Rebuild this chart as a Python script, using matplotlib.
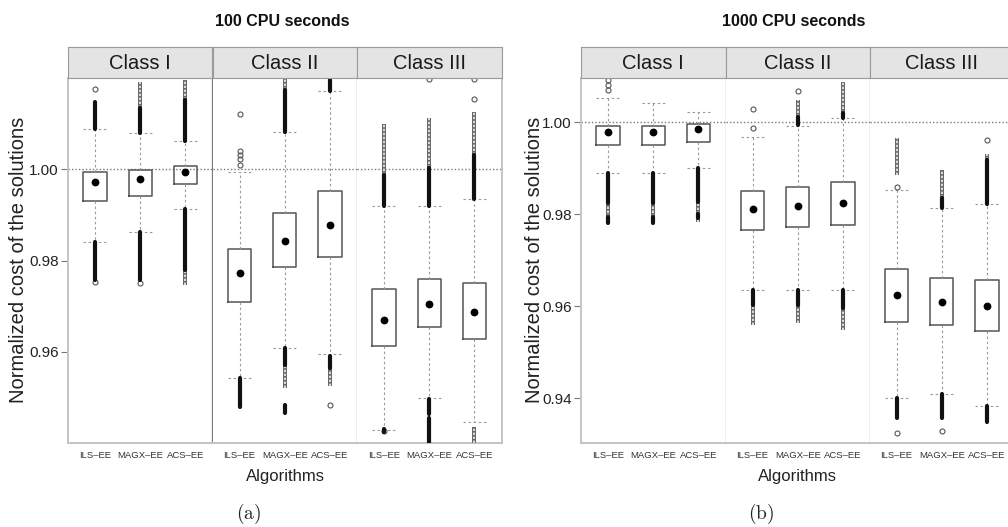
import matplotlib
matplotlib.use("Agg")
import matplotlib.pyplot as plt

plt.rcParams['font.family'] = ['Liberation Sans', 'DejaVu Sans']
plt.rcParams['mathtext.fontset'] = 'cm'

# ---------------------------------------------------------------- data
algorithms = ["ILS\u2013EE", "MAGX\u2013EE", "ACS\u2013EE"]
classes = ["Class I", "Class II", "Class III"]
panel_titles = ["100 CPU seconds", "1000 CPU seconds"]
panel_tags = ["(a)", "(b)"]
y_ticks_100 = [0.96, 0.98, 1.00]
y_ticks_1000 = [0.94, 0.96, 0.98, 1.00]
y_range_100 = (0.9401, 1.0199)
y_range_1000 = (0.9303, 1.0096)
reference_cost = 1.00

# rows = instance class, columns = algorithm
q1_100 = [[0.99307, 0.99416, 0.99672],
          [0.97086, 0.97851, 0.98076],
          [0.96138, 0.96541, 0.96284]]
q3_100 = [[0.99928, 0.99978, 1.00073],
          [0.98245, 0.99032, 0.99526],
          [0.97370, 0.97595, 0.97503]]
mean_100 = [[0.99709, 0.99775, 0.99941],
            [0.97720, 0.98433, 0.98782],
            [0.96695, 0.97049, 0.96867]]
whislo_100 = [[0.98397, 0.98630, 0.99126],
              [0.95425, 0.96094, 0.95955],
              [0.94295, 0.94985, 0.94476]]
whishi_100 = [[1.00874, 1.00780, 1.00612],
              [0.99928, 1.00802, 1.01705],
              [0.99191, 0.99191, 0.99344]]

q1_1000 = [[0.99507, 0.99507, 0.99565],
           [0.97659, 0.97717, 0.97767],
           [0.95665, 0.95593, 0.95463]]
q3_1000 = [[0.99926, 0.99926, 0.99957],
           [0.98507, 0.98600, 0.98696],
           [0.96811, 0.96609, 0.96572]]
mean_1000 = [[0.99796, 0.99796, 0.99854],
             [0.98109, 0.98187, 0.98239],
             [0.96245, 0.96100, 0.96006]]
whislo_1000 = [[0.98891, 0.98891, 0.98999],
               [0.96354, 0.96354, 0.96354],
               [0.93999, 0.94087, 0.93839]]
whishi_1000 = [[1.00535, 1.00413, 1.00230],
               [0.99687, 0.99926, 1.00087],
               [0.98528, 0.98130, 0.98217]]

# runs of heavily overlapping outliers (lo, hi)
dense_100 = [
    [[(0.9758, 0.9840), (1.0087, 1.0147)],
     [(0.9758, 0.9863), (1.0078, 1.0133)],
     [(0.9779, 0.9913), (1.0061, 1.0150)]],
    [[(0.9480, 0.9543)],
     [(0.9572, 0.9609), (0.9466, 0.9484), (1.0080, 1.0173)],
     [(0.9564, 0.9591), (1.0171, 1.0199)]],
    [[(0.9919, 0.9987), (0.9424, 0.9432)],
     [(0.9465, 0.9498), (0.9400, 0.9456), (0.9919, 1.0002)],
     [(0.9934, 1.0031)]],
]
# runs of loosely stacked outliers (lo, hi)
sparse_100 = [
    [[], [(1.0133, 1.0191)], [(0.9746, 0.9779), (1.0150, 1.0194)]],
    [[], [(0.9521, 0.9572), (1.0173, 1.0199)], [(0.9525, 0.9564)]],
    [[(0.9987, 1.0098)], [(1.0002, 1.0111)], [(0.9400, 0.9437), (1.0031, 1.0125)]],
]
# isolated outliers
fliers_100 = [
    [[0.9752, 1.0176], [0.9750], []],
    [[1.0009, 1.0022, 1.0031, 1.0039, 1.0120], [], [0.9483]],
    [[0.9427], [1.0196], [1.0152, 1.0196]],
]

dense_1000 = [
    [[(0.9824, 0.9889), (0.9780, 0.9794)],
     [(0.9824, 0.9889), (0.9780, 0.9794)],
     [(0.9827, 0.9900), (0.9792, 0.9800)]],
    [[(0.9603, 0.9635)],
     [(0.9603, 0.9635), (0.9993, 1.0012)],
     [(0.9596, 0.9635), (1.0009, 1.0020)]],
    [[(0.9357, 0.9400)],
     [(0.9357, 0.9409), (0.9813, 0.9835)],
     [(0.9349, 0.9384), (0.9822, 0.9918)]],
]
sparse_1000 = [
    [[(0.9794, 0.9824)], [(0.9794, 0.9824)], [(0.9784, 0.9827)]],
    [[(0.9559, 0.9603)], [(0.9563, 0.9603), (1.0012, 1.0049)],
     [(0.9549, 0.9596), (1.0020, 1.0088)]],
    [[(0.9885, 0.9965)], [(0.9835, 0.9896)], [(0.9918, 0.9930)]],
]
fliers_1000 = [
    [[1.0070, 1.0081, 1.0092], [], []],
    [[0.9988, 1.0029], [1.0067], []],
    [[0.9860, 0.9324], [0.9329], [0.9962]],
]

panels = [
    dict(q1=q1_100, q3=q3_100, mean=mean_100, lo=whislo_100, hi=whishi_100,
         dense=dense_100, sparse=sparse_100, fliers=fliers_100,
         yr=y_range_100, yt=y_ticks_100),
    dict(q1=q1_1000, q3=q3_1000, mean=mean_1000, lo=whislo_1000, hi=whishi_1000,
         dense=dense_1000, sparse=sparse_1000, fliers=fliers_1000,
         yr=y_range_1000, yt=y_ticks_1000),
]

# ---------------------------------------------------------------- layout (pixels)
W, H = 1008, 527
fig = plt.figure(figsize=(W / 100, H / 100), dpi=100)


def rect(x0, y0, w, h):
    return [x0 / W, 1 - (y0 + h) / H, w / W, h / H]


def fx(x):
    return x / W


def fy(y):
    return 1 - y / H


facet_lefts = [[68, 212.5, 357], [581, 725.5, 869.5]]
facet_w = 144.5
plot_top, plot_bot = 78, 443
strip_top = 47
title_x = [282, 794]
ylabel_x = [19, 534]
xlabel_x = [285, 797]
tag_x = [249, 761]

light = '#c4c4c4'
dark = '#7a7a7a'
box_w = 0.52
positions = [1, 2, 3]

for p, pan in enumerate(panels):
    for c in range(3):
        x0 = facet_lefts[p][c]
        ax = fig.add_axes(rect(x0, plot_top, facet_w, plot_bot - plot_top))
        ax.set_xlim(0.4, 3.6)
        ax.set_ylim(*pan['yr'])
        ax.set_facecolor('white')
        ax.axhline(reference_cost, color='#7a7a7a', lw=1.0, ls=(0, (1, 1.5)),
                   zorder=1)

        stats = []
        for a in range(3):
            stats.append(dict(med=pan['mean'][c][a], mean=pan['mean'][c][a],
                              q1=pan['q1'][c][a], q3=pan['q3'][c][a],
                              whislo=pan['lo'][c][a], whishi=pan['hi'][c][a],
                              fliers=pan['fliers'][c][a], label=algorithms[a]))
        ax.bxp(stats, positions=positions, widths=box_w, capwidths=box_w,
               showmeans=True, showfliers=True, patch_artist=False,
               boxprops=dict(color='#555555', lw=1.1),
               whiskerprops=dict(color='#999999', lw=0.8, ls=(0, (2.2, 2.4))),
               capprops=dict(color='#999999', lw=0.8, ls=(0, (2.2, 2.4))),
               medianprops=dict(lw=0),
               meanprops=dict(marker='o', markerfacecolor='black',
                              markeredgecolor='black', markersize=4.6),
               flierprops=dict(marker='o', markerfacecolor='none',
                               markeredgecolor='#555555', markersize=3.6,
                               markeredgewidth=0.8))

        for a in range(3):
            # loose runs: grey column with white gaps, reading as stacked rings
            for lo, hi in pan['sparse'][c][a]:
                ax.vlines(positions[a], lo, hi, colors='#606060', lw=2.8,
                          zorder=3)
                ax.vlines(positions[a], lo, hi, colors='white', lw=1.1,
                          linestyles=(0, (1.6, 1.0)), zorder=3.5)
            for lo, hi in pan['dense'][c][a]:
                vl = ax.vlines(positions[a], lo, hi, colors='#111111', lw=3.0,
                               zorder=4)
                vl.set_capstyle('round')

        ax.set_xticks(positions)
        ax.set_xticklabels(algorithms, fontsize=6.8, color='#333333')
        ax.tick_params(axis='x', length=0, pad=6)
        for s in ax.spines.values():
            s.set_visible(False)
        ax.spines['bottom'].set_visible(True)
        ax.spines['bottom'].set_color(light)
        ax.spines['bottom'].set_linewidth(1.4)
        if c == 0:
            ax.spines['left'].set_visible(True)
            ax.spines['left'].set_color(light)
            ax.spines['left'].set_linewidth(1.4)
            ax.set_yticks(pan['yt'])
            ax.set_yticklabels([f"{v:.2f}" for v in pan['yt']], fontsize=11,
                               color='#222222')
            ax.tick_params(axis='y', length=5, width=0.8, color='#777777',
                           pad=1.5)
        else:
            ax.set_yticks([])
        ax.spines['right'].set_visible(True)
        if c < 2:
            ax.spines['right'].set_color(dark)
            ax.spines['right'].set_linewidth(0.9)
        else:
            ax.spines['right'].set_color(light)
            ax.spines['right'].set_linewidth(1.4)

        # facet strip
        sx = fig.add_axes(rect(x0, strip_top, facet_w, plot_top - strip_top))
        sx.set_facecolor('#e4e4e4')
        sx.set_xticks([])
        sx.set_yticks([])
        for s in sx.spines.values():
            s.set_color('#9a9a9a')
            s.set_linewidth(0.8)
        sx.text(0.5, 0.47, classes[c], ha='center', va='center', fontsize=14.5,
                color='#1a1a1a', transform=sx.transAxes)

    fig.text(fx(title_x[p]), fy(22), panel_titles[p], ha='center', va='center',
             fontsize=11.5, fontweight='bold', color='#111111')
    fig.text(fx(ylabel_x[p]), fy(260), "Normalized cost of the solutions",
             rotation=90, ha='center', va='center', fontsize=14.5,
             color='#222222')
    fig.text(fx(xlabel_x[p]), fy(476), "Algorithms", ha='center', va='center',
             fontsize=12, color='#222222')
    fig.text(fx(tag_x[p]), fy(514), r"$\mathrm{" + panel_tags[p] + "}$",
             ha='center', va='center', fontsize=14, color='#222222')

fig.savefig("out.png", dpi=100, facecolor='white')
